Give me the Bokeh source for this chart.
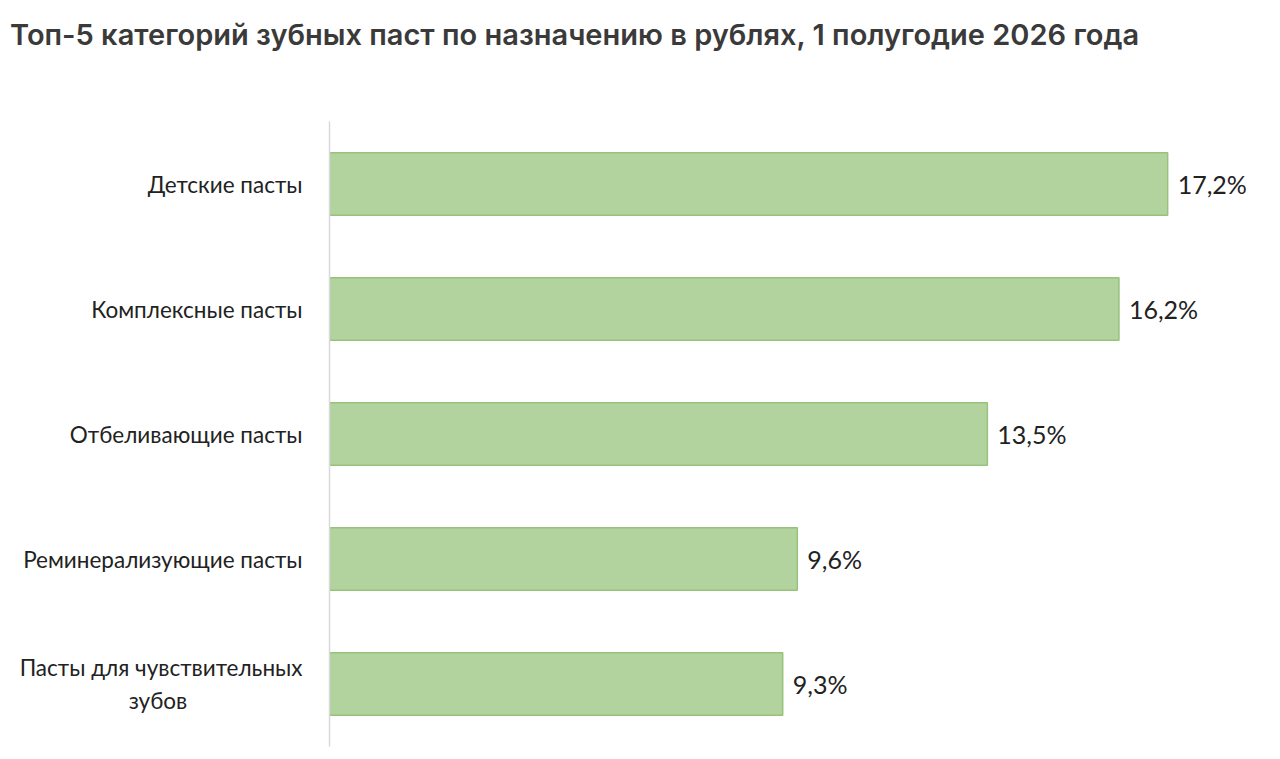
from bokeh.plotting import figure
from bokeh.models import ColumnDataSource, Range1d, Div
from bokeh.layouts import column
from bokeh.core.properties import value
from bokeh.embed import file_html
from bokeh.resources import INLINE

# data, top to bottom
categories = ["Детские пасты", "Комплексные пасты", "Отбеливающие пасты",
              "Реминерализующие пасты",
              "Пасты для чувствительных\nзубов" + "\u00a0" * 20]
shares = [17.2, 16.2, 13.5, 9.6, 9.3]
share_labels = ["17,2%", "16,2%", "13,5%", "9,6%", "9,3%"]

title_text = "Топ-5 категорий зубных паст по назначению в рублях, 1 полугодие 2026 года"

src = ColumnDataSource(data=dict(cat=categories, val=shares, lbl=share_labels))

p = figure(width=1272, height=682, y_range=list(reversed(categories)),
           x_range=Range1d(0, 19.31), output_backend="svg", toolbar_location=None,
           min_border_left=329, min_border_right=2, min_border_top=51, min_border_bottom=6)

p.hbar(y="cat", right="val", left=0, height=0.5, source=src,
       fill_color="#b3d39e", line_color="#96c27c", line_width=1.5)

p.text(x="val", y="cat", text="lbl", source=src, x_offset=10,
       text_baseline="middle", text_align="left", text_font=value("Lato"),
       text_font_size="25px", text_color="#222222")

p.xaxis.visible = False
p.xgrid.visible = False
p.ygrid.visible = False
p.outline_line_color = None

ax = p.yaxis[0]
ax.axis_line_color = "#d9d9d9"
ax.axis_line_width = 1.5
ax.major_tick_line_color = None
ax.minor_tick_line_color = None
ax.major_label_standoff = 21
ax.major_label_text_font = "Lato"
ax.major_label_text_font_size = "22.5px"
ax.major_label_text_color = "#222222"

# title as a separate block above the plot
head = Div(text=title_text, width=1272, height=70, margin=(0, 0, 0, 0),
           styles={"font-family": "Inter", "font-weight": "600", "font-size": "29px",
                   "color": "#3a3a3a", "line-height": "70px", "padding-left": "10px",
                   "white-space": "nowrap"})

layout = column(head, p, spacing=0)

open("out.html", "w").write(file_html(layout, INLINE))
